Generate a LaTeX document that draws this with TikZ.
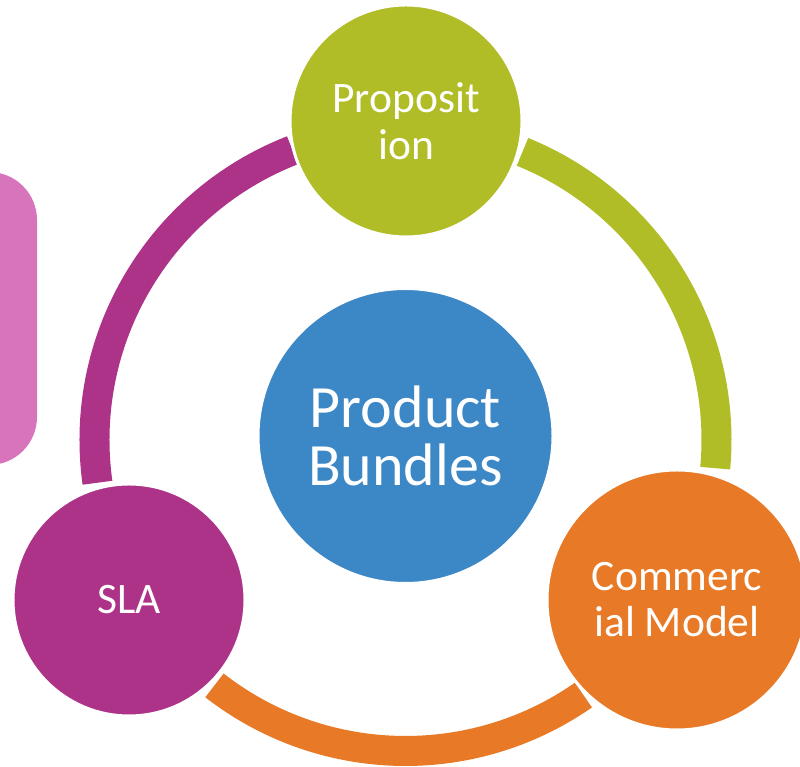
\documentclass[tikz,border=0pt]{standalone}
\usepackage{fontspec}
\setmainfont{Carlito}
\definecolor{cgreen}{RGB}{176,189,38}
\definecolor{corange}{RGB}{232,122,39}
\definecolor{cmag}{RGB}{173,51,137}
\definecolor{cblue}{RGB}{60,135,197}
\definecolor{cpink}{RGB}{216,116,188}
\begin{document}
\begin{tikzpicture}[x=1pt,y=1pt,
  ring/.style={line width=30pt, line cap=butt},
  bubble/.style={circle, draw=white, line width=3pt, inner sep=0pt, text=white, align=center},
  small/.style={font=\fontsize{43.5}{47}\selectfont}]
\useasboundingbox (0,0) rectangle (800,767);
\fill[cpink, rounded corners=48pt] (-100,302) rectangle (37,595);
\coordinate (O) at (405.5,327);
\draw[ring, cgreen] ([shift={(67.9:311)}]O) arc[start angle=67.9, end angle=-5.2, radius=311];
\draw[ring, corange] ([shift={(-55.1:311)}]O) arc[start angle=-55.1, end angle=-127.9, radius=311];
\draw[ring, cmag] ([shift={(187.9:311)}]O) arc[start angle=187.9, end angle=111.3, radius=311];
\node[bubble, fill=cblue, minimum size=295pt, font=\fontsize{60}{58}\selectfont] (pb) at (405.5,331) {Product\\Bundles};
\node[bubble, fill=cgreen, minimum size=232pt, small] (prop) at (406,646) {Proposit\\ion};
\node[bubble, fill=corange, minimum size=260pt, small, font=\fontsize{43.5}{46}\selectfont] (com) at (677,167) {Commerc\\ial Model};
\node[bubble, fill=cmag, minimum size=232pt, small] (sla) at (129,167) {SLA};
\end{tikzpicture}
\end{document}
